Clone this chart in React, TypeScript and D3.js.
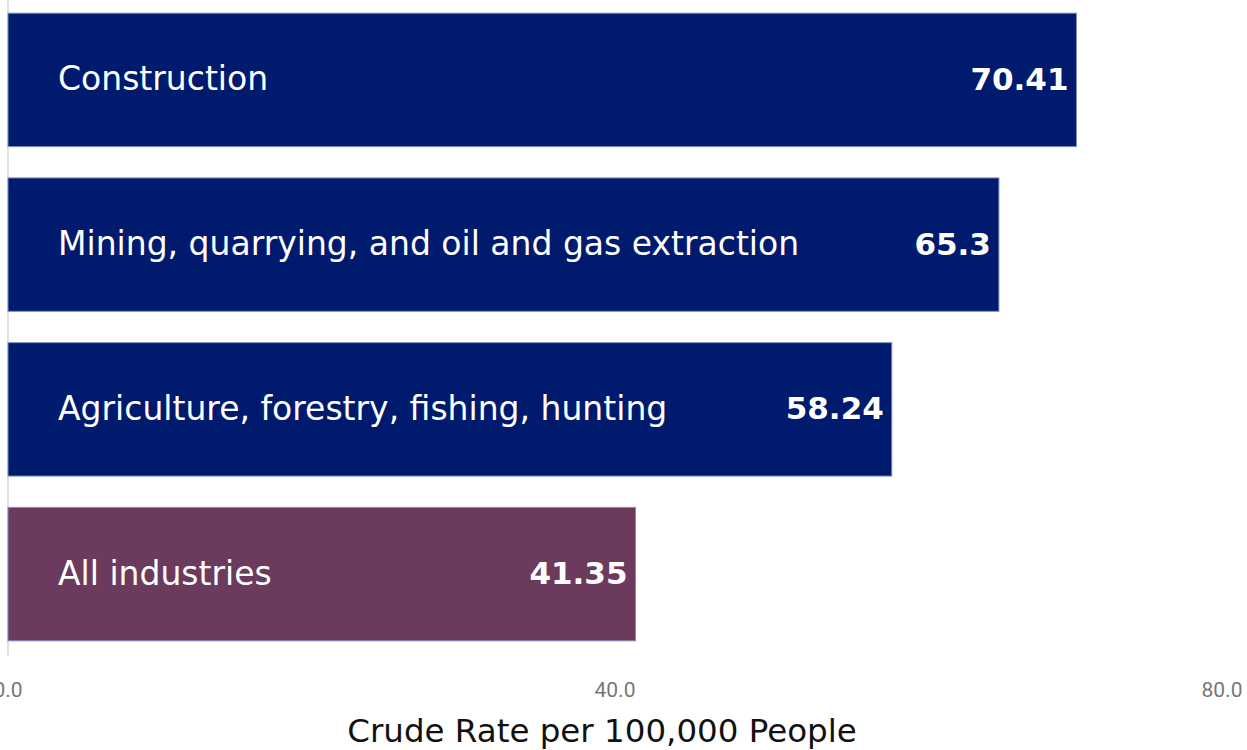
import React from "react";
import * as d3 from "d3";

const categories = [
  "Construction",
  "Mining, quarrying, and oil and gas extraction",
  "Agriculture, forestry, fishing, hunting",
  "All industries",
];
const rates = [70.41, 65.3, 58.24, 41.35];
const valueLabels = ["70.41", "65.3", "58.24", "41.35"];
const barColors = ["#001a6e", "#001a6e", "#001a6e", "#6b3a5c"];
const xTicks = [0, 40, 80];
const xTitle = "Crude Rate per 100,000 People";

const W = 1247;
const H = 750;
const FONT = "'DejaVu Sans', sans-serif";

const App = () => {
  const x = d3.scaleLinear().domain([0, 80]).range([8, 1222]);
  const y = d3
    .scaleBand<string>()
    .domain(categories)
    .range([0, 654])
    .paddingInner(0.19)
    .paddingOuter(0.08);

  return (
    <svg
      width={W}
      height={H}
      style={{ position: "absolute", left: 0, top: 0, background: "#fff" }}
    >
      {/* left axis line */}
      <line x1={x(0)} x2={x(0)} y1={0} y2={656} stroke="#d9d9d9" strokeWidth={1.5} />

      {categories.map((c, i) => {
        const y0 = y(c) ?? 0;
        const bh = y.bandwidth();
        return (
          <g key={c}>
            <rect
              x={x(0)}
              y={y0}
              width={x(rates[i]) - x(0)}
              height={bh}
              fill={barColors[i]}
              stroke="#7f8fc4"
              strokeWidth={1}
            />
            <text
              x={x(0) + 50}
              y={y0 + bh / 2}
              dy="0.32em"
              fill="#fff"
              fontFamily={FONT}
              fontSize={33}
            >
              {c}
            </text>
            <text
              x={x(rates[i]) - 8}
              y={y0 + bh / 2}
              dy="0.32em"
              fill="#fff"
              fontFamily={FONT}
              fontWeight="bold"
              fontSize={31}
              textAnchor="end"
            >
              {valueLabels[i]}
            </text>
          </g>
        );
      })}

      {xTicks.map((t) => (
        <text
          key={t}
          x={x(t)}
          y={690}
          dy="0.35em"
          textAnchor="middle"
          fill="#777"
          fontFamily="'Liberation Sans Narrow', 'Roboto', sans-serif"
          fontSize={21}
        >
          {d3.format(".1f")(t)}
        </text>
      ))}

      <text
        x={602}
        y={731}
        dy="0.35em"
        textAnchor="middle"
        fill="#111"
        fontFamily={FONT}
        fontSize={32.5}
      >
        {xTitle}
      </text>
    </svg>
  );
};

export default App;
